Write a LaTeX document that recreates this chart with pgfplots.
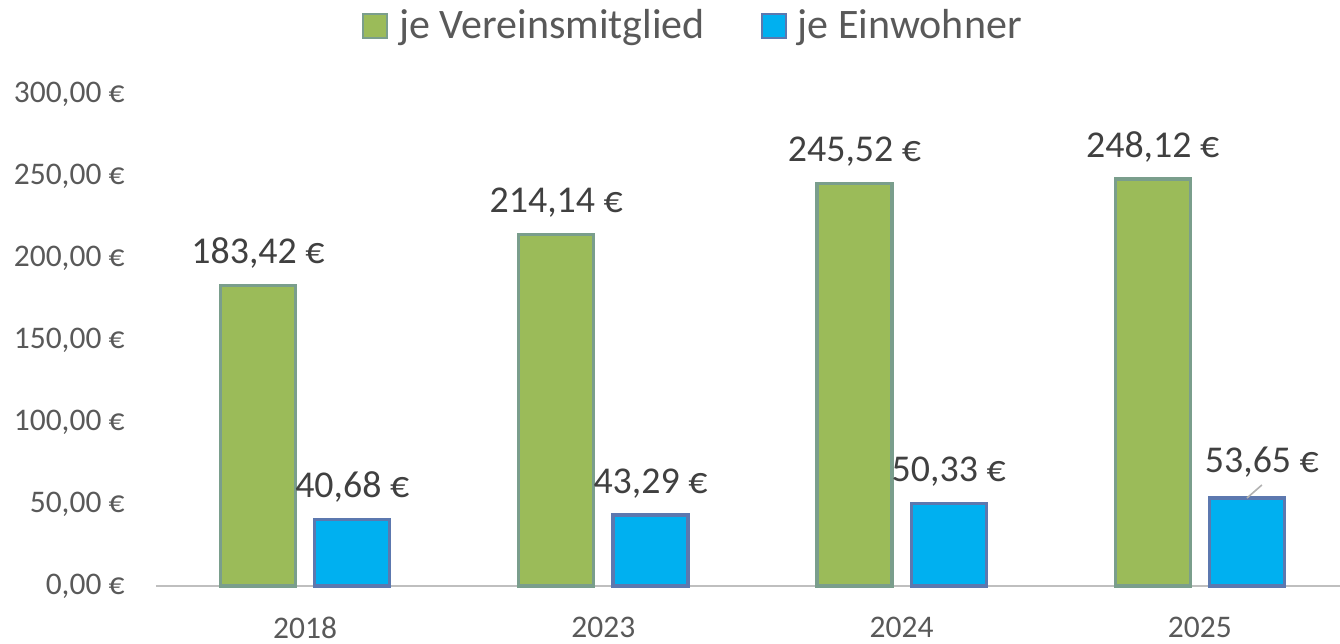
\documentclass[border=0pt]{standalone}
\usepackage{fontspec}
\setmainfont{Carlito}
\usepackage{pgfplots}
\pgfplotsset{compat=1.18}
\usepackage{pgfplotstable}
\definecolor{vgreen}{RGB}{155,187,89}
\definecolor{vblue}{RGB}{0,176,240}
\definecolor{gedge}{RGB}{122,158,140}
\definecolor{bedge}{RGB}{92,120,175}
\definecolor{txt}{RGB}{89,89,89}
\definecolor{lbl}{RGB}{64,64,64}
\definecolor{axisgray}{RGB}{191,191,191}

\pgfplotstableread{
x y
0 183.42
1 214.14
2 245.52
3 248.12
}\greendata
\pgfplotstableread{
x y dx dy
0 40.68 0 8.25
1 43.29 0 8.25
2 50.33 0 8.25
3 53.65 11.2 9.4
}\bluedata

\begin{document}
\begin{tikzpicture}
\begin{axis}[
  width=444pt, height=184.5pt, scale only axis,
  xmin=-0.5, xmax=3.47, ymin=0, ymax=300,
  clip=false,
  axis x line*=bottom, axis y line*=left,
  x axis line style={draw=axisgray, line width=1.1pt, -},
  y axis line style={draw=none},
  tick style={draw=none}, major tick length=0pt,
  xtick={0,1,2,3}, xticklabels={2018,2023,2024,2025},
  ytick={0,50,100,150,200,250,300},
  yticklabels={{0,00 €},{50,00 €},{100,00 €},{150,00 €},{200,00 €},{250,00 €},{300,00 €}},
  ticklabel style={font=\fontsize{11.8}{14}\selectfont, text=txt},
  yticklabel style={anchor=east, inner sep=0pt, xshift=-11.6pt},
  xticklabel style={anchor=north, inner sep=0pt, yshift=-11.6pt},
  /pgf/number format/assume math mode=true,
  legend style={at={(0.4527,1.138)}, anchor=center, draw=none, fill=none,
    font=\fontsize{15.75}{18}\selectfont, text=txt,
    nodes={inner sep=0pt},
    /tikz/every odd column/.append style={column sep=4.1pt},
    /tikz/every even column/.append style={column sep=21pt}},
  legend columns=2,
]
\addplot[ybar, fill=vgreen, draw=gedge, line width=1.2pt, bar width=0.252, bar shift=-0.158,
  point meta=y,
  nodes near coords={\pgfmathprintnumber[fixed,fixed zerofill,precision=2,use comma,1000 sep={}]{\pgfplotspointmeta}\ €},
  nodes near coords style={font=\fontsize{14.2}{16}\selectfont, text=lbl, anchor=base, inner sep=0pt, xshift=-17.67pt, yshift=8.25pt},
  legend image code/.code={\draw[fill=vgreen, draw=gedge, line width=0.8pt] (0pt,-4.5pt) rectangle (9pt,4.5pt);}
] table[x=x, y=y] {\greendata};
\addlegendentry{je Vereinsmitglied}
\addplot[ybar, fill=vblue, draw=bedge, line width=1.2pt, bar width=0.252, bar shift=0.158,
  point meta=y,
  visualization depends on={\thisrow{dx}\as\dx},
  visualization depends on={\thisrow{dy}\as\dy},
  nodes near coords={\hspace*{\dx pt}\pgfmathprintnumber[fixed,fixed zerofill,precision=2,use comma,1000 sep={}]{\pgfplotspointmeta}\ €},
  nodes near coords style={font=\fontsize{14.2}{16}\selectfont, text=lbl, anchor=base, inner sep=0pt, xshift=17.67pt, yshift=\dy pt},
  legend image code/.code={\draw[fill=vblue, draw=bedge, line width=0.8pt] (0pt,-4.5pt) rectangle (9pt,4.5pt);}
] table[x=x, y=y] {\bluedata};
\addlegendentry{je Einwohner}
\draw[gray!60, line width=0.6pt] (axis cs:3.158,53.65) -- ++(5.6pt,4.9pt);
\coordinate (bl) at (rel axis cs:0,0);
\coordinate (tr) at (rel axis cs:1,1);
\end{axis}
\pgfresetboundingbox
\path ([xshift=-58.5pt, yshift=-21.4pt]bl) rectangle ([yshift=35.25pt]tr);
\end{tikzpicture}
\end{document}
